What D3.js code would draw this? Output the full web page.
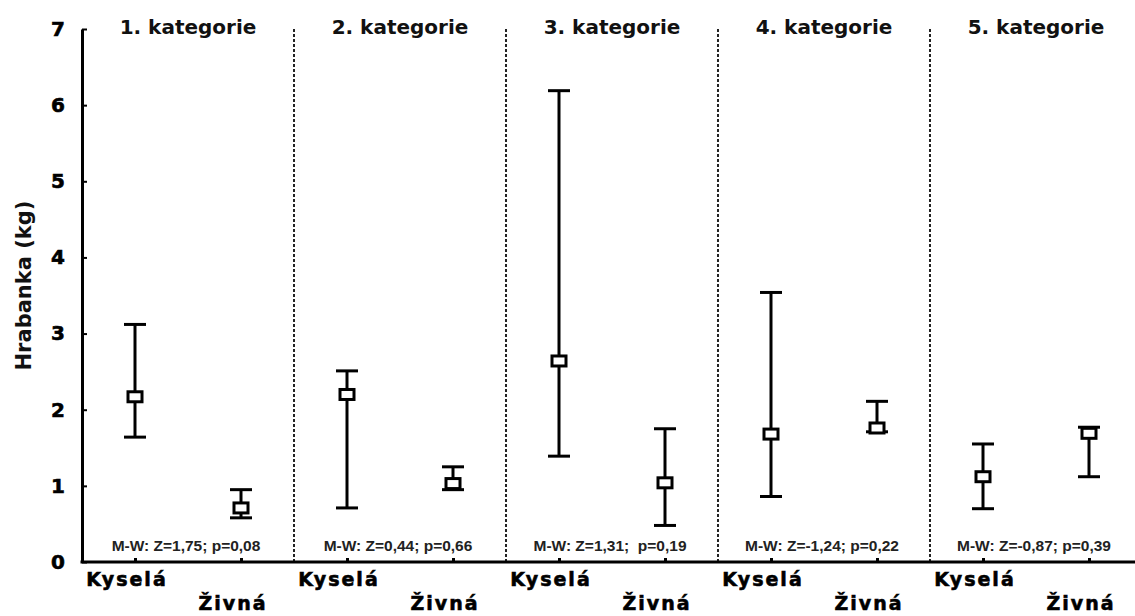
<!DOCTYPE html>
<html>
<head>
<meta charset="utf-8">
<script src="https://cdn.jsdelivr.net/npm/d3@7/dist/d3.min.js"></script>
<style>
  html, body { margin: 0; padding: 0; background: #fff; }
  svg { display: block; }
</style>
</head>
<body>
<svg id="chart" width="1135" height="616"></svg>
<script>
// ---- Data ----
const categories = ["1. kategorie", "2. kategorie", "3. kategorie", "4. kategorie", "5. kategorie"];
const groups = ["Kyselá", "Živná"];
const kyselaCenter = [2.17, 2.20, 2.64, 1.68, 1.12];
const kyselaLow    = [1.64, 0.71, 1.39, 0.86, 0.70];
const kyselaHigh   = [3.12, 2.51, 6.19, 3.54, 1.55];
const zivnaCenter  = [0.71, 1.03, 1.04, 1.76, 1.69];
const zivnaLow     = [0.58, 0.95, 0.48, 1.71, 1.12];
const zivnaHigh    = [0.95, 1.25, 1.75, 2.11, 1.77];
const statsLabels = [
  "M-W: Z=1,75; p=0,08",
  "M-W: Z=0,44; p=0,66",
  "M-W: Z=1,31;  p=0,19",
  "M-W: Z=-1,24; p=0,22",
  "M-W: Z=-0,87; p=0,39"
];
const yTicks = [0, 1, 2, 3, 4, 5, 6, 7];
const yLabel = "Hrabanka (kg)";

(function () {
// build records
const points = [];
categories.forEach((c, i) => {
  points.push({cat: c, group: groups[0], key: i + "-0", center: kyselaCenter[i], low: kyselaLow[i], high: kyselaHigh[i]});
  points.push({cat: c, group: groups[1], key: i + "-1", center: zivnaCenter[i], low: zivnaLow[i], high: zivnaHigh[i]});
});

// ---- Layout ----
const svg = d3.select("#chart");
const mLeft = 82, mRight = 1142, mTop = 29, mBottom = 562;

const y = d3.scaleLinear().domain([0, 7]).range([mBottom, mTop]);
const x = d3.scalePoint().domain(points.map(d => d.key)).range([mLeft, mRight]).padding(0.5);
const xc = d3.scaleBand().domain(categories).range([mLeft, mRight]);

const bold = "'DejaVu Sans', sans-serif";
const arial = "'Liberation Sans', Arial, sans-serif";

// dashed dividers
svg.append("g").selectAll("line")
  .data(categories.slice(1))
  .join("line")
  .attr("x1", d => xc(d)).attr("x2", d => xc(d))
  .attr("y1", y(7)).attr("y2", y(0))
  .attr("stroke", "#222").attr("stroke-width", 2)
  .attr("stroke-dasharray", "3,2");

// Y axis
const yAxis = svg.append("g")
  .attr("transform", `translate(${mLeft},0)`)
  .call(d3.axisLeft(y).tickValues(yTicks).tickFormat(d3.format("d")).tickSizeInner(-5).tickSizeOuter(0).tickPadding(17));
yAxis.select(".domain").attr("stroke", "#000").attr("stroke-width", 3);
yAxis.selectAll(".tick line").attr("stroke", "#000").attr("stroke-width", 2);
yAxis.selectAll(".tick text")
  .attr("font-family", bold).attr("font-weight", "bold").attr("font-size", 20)
  .attr("fill", "#000").attr("stroke", "#000").attr("stroke-width", 0.6);

// X axis
const xAxis = svg.append("g")
  .attr("transform", `translate(0,${mBottom})`)
  .call(d3.axisBottom(x).tickSizeInner(-4).tickSizeOuter(0).tickFormat(""));
xAxis.select(".domain").attr("stroke", "#000").attr("stroke-width", 3)
  .attr("d", `M${mLeft - 1.5},0H${mRight}`);
xAxis.selectAll(".tick line").attr("stroke", "#000").attr("stroke-width", 3);

// X labels (staggered)
svg.append("g").selectAll("text")
  .data(points)
  .join("text")
  .attr("x", d => x(d.key) - 8)
  .attr("y", d => d.group === groups[0] ? 586 : 610)
  .attr("text-anchor", "middle")
  .attr("font-family", bold).attr("font-weight", "bold").attr("font-size", 19)
  .attr("letter-spacing", 2)
  .attr("fill", "#000").attr("stroke", "#000").attr("stroke-width", 0.6)
  .text(d => d.group);

// Category titles
svg.append("g").selectAll("text")
  .data(categories)
  .join("text")
  .attr("x", d => xc(d) + xc.bandwidth() / 2)
  .attr("y", 34)
  .attr("text-anchor", "middle")
  .attr("font-family", bold).attr("font-weight", "bold").attr("font-size", 20)
  .attr("fill", "#111")
  .text(d => d);

// Stats labels
svg.append("g").selectAll("text")
  .data(categories)
  .join("text")
  .attr("x", d => xc(d) + xc.bandwidth() / 2 - 2)
  .attr("y", 551)
  .attr("text-anchor", "middle")
  .style("white-space", "pre")
  .attr("font-family", arial).attr("font-weight", "bold").attr("font-size", 15.5)
  .attr("fill", "#222")
  .text((d, i) => statsLabels[i]);

// Y label
svg.append("text")
  .attr("transform", `translate(31,${(y(0) + y(7)) / 2 - 10}) rotate(-90)`)
  .attr("text-anchor", "middle")
  .attr("font-family", bold).attr("font-weight", "bold").attr("font-size", 21)
  .attr("fill", "#111")
  .text(yLabel);

// Error bars
const capW = 22;
const marks = svg.append("g").selectAll("g")
  .data(points)
  .join("g");
marks.append("line")
  .attr("x1", d => x(d.key)).attr("x2", d => x(d.key))
  .attr("y1", d => y(d.low)).attr("y2", d => y(d.high))
  .attr("stroke", "#000").attr("stroke-width", 3);
marks.append("line")
  .attr("x1", d => x(d.key) - capW / 2).attr("x2", d => x(d.key) + capW / 2)
  .attr("y1", d => y(d.high)).attr("y2", d => y(d.high))
  .attr("stroke", "#000").attr("stroke-width", 3);
marks.append("line")
  .attr("x1", d => x(d.key) - capW / 2).attr("x2", d => x(d.key) + capW / 2)
  .attr("y1", d => y(d.low)).attr("y2", d => y(d.low))
  .attr("stroke", "#000").attr("stroke-width", 3);
marks.append("rect")
  .attr("x", d => x(d.key) - 7).attr("y", d => y(d.center) - 5)
  .attr("width", 14).attr("height", 10)
  .attr("fill", "#fff").attr("stroke", "#000").attr("stroke-width", 3);
})();
</script>
</body>
</html>
